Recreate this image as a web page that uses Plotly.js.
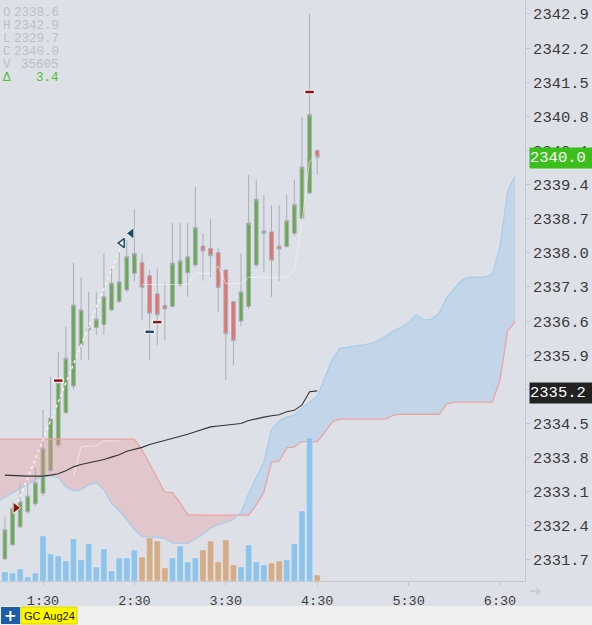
<!DOCTYPE html>
<html><head><meta charset="utf-8">
<script src="https://cdn.plot.ly/plotly-3.0.1.min.js"></script>
<style>html,body{margin:0;padding:0;background:#dde1e7;overflow:hidden}#chart{width:592px;height:625px}</style>
</head><body><div id="chart"></div>
<script>
// ---- candle data (5-minute bars) ----
const candleTimes = ["1:05","1:10","1:15","1:20","1:25","1:30","1:35","1:40","1:45","1:50","1:55","2:00","2:05","2:10","2:15","2:20","2:25","2:30","2:35","2:40","2:45","2:50","2:55","3:00","3:05","3:10","3:15","3:20","3:25","3:30","3:35","3:40","3:45","3:50","3:55","4:00","4:05","4:10","4:15","4:20","4:25","4:30"];
const openP  = [2331.72,2332.01,2332.38,2332.69,2332.85,2333.07,2333.53,2334.06,2334.72,2335.27,2336.10,2336.42,2336.47,2336.53,2336.83,2337.00,2337.24,2337.58,2337.80,2337.53,2337.16,2336.92,2336.90,2337.34,2337.59,2337.75,2338.14,2338.09,2338.01,2337.65,2337.00,2336.60,2336.90,2337.75,2338.40,2338.43,2338.14,2338.13,2338.40,2338.71,2339.23,2340.10];
const highP  = [2332.59,2332.90,2333.27,2333.27,2333.60,2334.78,2335.46,2335.97,2336.49,2337.80,2337.50,2337.20,2337.20,2337.99,2337.68,2338.02,2338.26,2338.89,2337.98,2337.65,2337.68,2337.38,2338.61,2338.61,2338.61,2339.35,2338.40,2338.69,2338.10,2337.65,2337.00,2337.99,2339.60,2339.50,2339.19,2338.98,2338.98,2339.19,2339.50,2340.79,2342.90,2340.12];
const lowP   = [2331.70,2332.00,2332.35,2332.65,2332.80,2333.00,2333.50,2334.00,2334.70,2335.20,2335.80,2335.80,2336.32,2336.32,2336.80,2336.98,2337.20,2337.41,2336.61,2335.80,2336.11,2336.21,2336.88,2337.30,2337.10,2337.70,2337.43,2337.50,2336.79,2335.39,2335.70,2336.49,2336.85,2337.70,2337.61,2337.10,2337.41,2338.10,2338.35,2338.65,2339.20,2339.60];
const closeP = [2332.32,2332.76,2332.90,2333.01,2333.29,2333.99,2334.61,2335.34,2335.84,2336.93,2336.83,2336.46,2336.64,2337.10,2337.38,2337.41,2337.92,2337.99,2337.29,2336.76,2336.73,2336.85,2337.79,2337.84,2337.92,2338.52,2338.04,2337.94,2337.29,2336.34,2336.20,2337.20,2338.61,2339.10,2338.45,2337.85,2338.08,2338.66,2338.99,2339.76,2340.84,2339.96];
const volumes = [90,80,120,40,80,450,270,250,200,420,210,370,140,320,100,230,230,310,240,430,400,130,230,350,190,230,310,400,190,410,160,140,360,190,160,180,200,210,370,700,1430,60];
const smaValues = [2333.44,2333.43,2333.42,2333.42,2333.42,2333.42,2333.44,2333.47,2333.53,2333.61,2333.66,2333.69,2333.72,2333.76,2333.81,2333.86,2333.93,2333.97,2334.01,2334.07,2334.11,2334.15,2334.19,2334.24,2334.28,2334.33,2334.38,2334.43,2334.45,2334.47,2334.49,2334.50,2334.56,2334.60,2334.63,2334.66,2334.68,2334.74,2334.77,2334.88,2335.15,2335.17];

// ---- ichimoku cloud ----
const cloudTimes = ["1:00","1:05","1:10","1:15","1:20","1:25","1:30","1:35","1:40","1:45","1:50","1:55","2:00","2:05","2:10","2:15","2:20","2:25","2:30","2:35","2:40","2:45","2:50","2:55","3:00","3:05","3:10","3:15","3:20","3:25","3:30","3:35","3:40","3:45","3:50","3:55","4:00","4:05","4:10","4:15","4:20","4:25","4:30","4:35","4:40","4:45","4:50","4:55","5:00","5:05","5:10","5:15","5:20","5:25","5:30","5:35","5:40","5:45","5:50","5:55","6:00","6:05","6:10","6:15","6:20","6:25","6:30","6:35","6:40"];
const spanA = [2332.90,2332.99,2333.07,2333.16,2333.25,2333.34,2333.42,2333.42,2333.39,2333.20,2333.12,2333.14,2333.24,2333.29,2333.14,2332.86,2332.71,2332.53,2332.32,2332.18,2332.17,2332.17,2332.14,2332.05,2332.04,2332.04,2332.13,2332.23,2332.36,2332.42,2332.47,2332.53,2332.68,2333.06,2333.39,2333.70,2334.37,2334.55,2334.63,2334.67,2334.82,2334.95,2335.06,2335.44,2335.82,2336.04,2336.06,2336.08,2336.11,2336.14,2336.20,2336.29,2336.40,2336.47,2336.57,2336.73,2336.62,2336.64,2336.76,2337.07,2337.27,2337.44,2337.50,2337.50,2337.50,2337.56,2338.12,2339.27,2339.57];
const spanB = [2334.18,2334.18,2334.18,2334.18,2334.18,2334.18,2334.18,2334.18,2334.18,2334.18,2334.18,2334.18,2334.18,2334.18,2334.18,2334.18,2334.18,2334.18,2334.18,2333.96,2333.67,2333.38,2333.09,2333.08,2332.87,2332.63,2332.62,2332.62,2332.62,2332.62,2332.62,2332.62,2332.62,2332.62,2332.83,2333.09,2333.71,2333.73,2334.00,2334.02,2334.13,2334.13,2334.13,2334.32,2334.54,2334.59,2334.59,2334.59,2334.59,2334.59,2334.59,2334.59,2334.67,2334.69,2334.69,2334.69,2334.69,2334.69,2334.69,2334.90,2334.94,2334.94,2334.94,2334.94,2334.94,2334.94,2335.39,2336.40,2336.59];
const tenkanTimes = ["2:35","2:40","2:45","2:50","2:55","3:00","3:05","3:10","3:15","3:20","3:25","3:30","3:35","3:40","3:45","3:50","3:55","4:00","4:05","4:10","4:15","4:20","4:25","4:30"];
const tenkanValues = [2337.35,2337.35,2337.35,2337.35,2337.35,2337.35,2337.35,2337.58,2337.58,2337.58,2337.73,2337.37,2337.37,2337.37,2337.50,2337.50,2337.50,2337.50,2337.50,2337.50,2337.65,2338.64,2339.88,2340.00];
const kijunTimes = ["1:50","1:55","2:05","2:10","2:20"];
const kijunValues = [2333.42,2334.02,2334.04,2334.14,2334.14];

// ---- drawings / signals ----
const trendTimes = ["1:12","2:22"];
const trendPrices = [2332.77,2338.20];
const trendEndTime = "2:28", trendEndPrice = 2338.40;
const signalTimes = ["1:40","2:40","2:45","4:25"];
const signalPrices = [2335.38,2336.38,2336.58,2341.30];
const signalColors = ["#8b1515","#1d4a66","#8b1515","#8b1515"];

// ---- axes labels ----
const xTickLabels = ["1:30","2:30","3:30","4:30","5:30","6:30"];
const yTickLabels = ["2331.7","2332.4","2333.1","2333.8","2334.5","2335.2","2335.9","2336.6","2337.3","2338.0","2338.7","2339.4","2340.1","2340.8","2341.5","2342.2","2342.9"];
const infoLabels = ["O","H","L","C","V","\u0394"];
const infoValues = ["2338.6","2342.9","2329.7","2340.0","35605","3.4"];
const lastPriceText = "2340.0";
const smaLastText = "2335.2";
const symbolName = "GC Aug24";

const toMin = t => { const p = t.split(':').map(Number); return p[0]*60 + p[1]; };
const cx = candleTimes.map(toMin);

// cloud with crossing points inserted
const ct=[], ca=[], cb=[];
const cm = cloudTimes.map(toMin);
for (let i=0;i<cm.length;i++){
  ct.push(cm[i]); ca.push(spanA[i]); cb.push(spanB[i]);
  if (i<cm.length-1){
    const d0=spanA[i]-spanB[i], d1=spanA[i+1]-spanB[i+1];
    if (d0*d1<0){
      const f=d0/(d0-d1);
      const yv=spanA[i]+f*(spanA[i+1]-spanA[i]);
      ct.push(cm[i]+f*(cm[i+1]-cm[i])); ca.push(yv); cb.push(yv);
    }
  }
}
const lo = ca.map((v,i)=>Math.min(v,cb[i]));

const MONO = "Liberation Mono, DejaVu Sans Mono, monospace";
const traces = [
  {x:ct,y:lo,mode:'lines',line:{width:0},hoverinfo:'skip',showlegend:false},
  {x:ct,y:cb,mode:'lines',line:{width:0},fill:'tonexty',fillcolor:'rgba(232,150,155,0.36)',hoverinfo:'skip',showlegend:false},
  {x:ct,y:lo,mode:'lines',line:{width:0},hoverinfo:'skip',showlegend:false},
  {x:ct,y:ca,mode:'lines',line:{width:0},fill:'tonexty',fillcolor:'rgba(160,200,235,0.42)',hoverinfo:'skip',showlegend:false},
  {x:cm,y:spanB,mode:'lines',line:{color:'#eba3a3',width:1.3},showlegend:false},
  {x:cm,y:spanA,mode:'lines',line:{color:'#a8cdeb',width:1.3},showlegend:false},
  {x:kijunTimes.map(toMin),y:kijunValues,mode:'lines',line:{color:'rgba(245,245,245,0.7)',width:1},showlegend:false},
  {x:cx,y:smaValues,mode:'lines',line:{color:'#333333',width:1.1},showlegend:false},
  {type:'candlestick',x:cx,open:openP,high:highP,low:lowP,close:closeP,
   increasing:{line:{color:'#a9aeb6',width:1},fillcolor:'#6aaa4e'},
   decreasing:{line:{color:'#a9aeb6',width:1},fillcolor:'#e8706e'},
   whiskerwidth:0,showlegend:false},
  {x:tenkanTimes.map(toMin),y:tenkanValues,mode:'lines',line:{color:'rgba(245,245,245,0.6)',width:1},showlegend:false},
  {x:trendTimes.map(toMin),y:trendPrices,mode:'lines',line:{color:'#f4f4f4',width:1.5,dash:'dot'},showlegend:false},
  {x:[toMin(trendTimes[0])],y:[trendPrices[0]],mode:'markers',marker:{symbol:'triangle-right',size:10,color:'#8b1515',line:{color:'#f0f0f0',width:1}},showlegend:false},
  {x:[toMin(trendTimes[1])],y:[trendPrices[1]],mode:'markers',marker:{symbol:'triangle-left',size:8,color:'#f0f0f0',line:{color:'#1d4a66',width:1.5}},showlegend:false},
  {x:[toMin(trendEndTime)],y:[trendEndPrice],mode:'markers',marker:{symbol:'triangle-left',size:10,color:'#1d4a66',line:{color:'#f0f0f0',width:1}},showlegend:false},
  {x:signalTimes.map(toMin),y:signalPrices,mode:'markers',marker:{symbol:'line-ew',size:8,line:{color:'#f4f4f4',width:4.5}},showlegend:false},
  {x:signalTimes.map(toMin),y:signalPrices,mode:'markers',marker:{symbol:'line-ew',size:6,line:{color:signalColors,width:2.5}},showlegend:false},
  {type:'bar',x:cx,y:volumes,yaxis:'y2',width:4,
   marker:{color:closeP.map((c,i)=>c>=openP[i]?'#8ec4ec':'#d4ad88'),line:{color:'rgba(255,255,255,0.35)',width:0.6}},showlegend:false,hoverinfo:'skip'}
];

const H = 581; // plot area height in px
const py = p => 1 - p/H;
const ann = [];
const infoY = [13,26,39,52,65,78];
infoLabels.forEach((l,i)=>{
  const col = i===5 ? '#4fc234' : '#b9c0ca';
  ann.push({xref:'paper',yref:'paper',x:0,xshift:2,y:py(infoY[i]),xanchor:'left',yanchor:'middle',text:l,showarrow:false,borderpad:0,font:{family:MONO,size:12.5,color:col}});
  ann.push({xref:'paper',yref:'paper',x:0,xshift:60,y:py(infoY[i]),xanchor:'right',yanchor:'middle',text:infoValues[i],showarrow:false,borderpad:0,font:{family:MONO,size:12.5,color:col}});
});
ann.push({xref:'paper',yref:'y',x:1,xshift:4,y:closeP[closeP.length-1],yshift:-0.5,xanchor:'left',yanchor:'middle',text:lastPriceText,showarrow:false,bgcolor:'#3cbf1c',borderpad:0,height:20,valign:'middle',font:{family:MONO,size:15.5,color:'#ffffff'},width:62,align:'left'});
ann.push({xref:'paper',yref:'y',x:1,xshift:4,y:smaValues[smaValues.length-1],yshift:-2.5,xanchor:'left',yanchor:'middle',text:smaLastText,showarrow:false,bgcolor:'#222222',borderpad:0,height:20,valign:'middle',font:{family:MONO,size:15.5,color:'#ffffff'},width:62,align:'left'});
ann.push({xref:'paper',yref:'paper',x:1,xshift:2,y:py(591),xanchor:'left',yanchor:'middle',text:'\u2794',showarrow:false,font:{family:'DejaVu Sans',size:15,color:'#c6cbd3'}});
// bottom strip
const W = 525;
ann.push({xref:'paper',yref:'paper',x:10.5/W,y:py(615.5),xanchor:'center',yanchor:'middle',text:'<b>+</b>',showarrow:false,font:{family:'DejaVu Sans',size:15,color:'#ffffff'}});
ann.push({xref:'paper',yref:'paper',x:49/W,y:py(615.5),xanchor:'center',yanchor:'middle',text:symbolName,showarrow:false,font:{family:'Liberation Sans, Arial',size:11,color:'#111111'}});

const shapes = [
  {type:'rect',xref:'paper',yref:'paper',x0:0,x1:592/W,y0:py(606),y1:py(626),fillcolor:'#f0f0f0',line:{width:0},layer:'below'},
  {type:'rect',xref:'paper',yref:'paper',x0:1/W,x1:20/W,y0:py(607),y1:py(624),fillcolor:'#1c5ea6',line:{width:0}},
  {type:'rect',xref:'paper',yref:'paper',x0:21/W,x1:77/W,y0:py(607),y1:py(624),fillcolor:'#fff700',line:{color:'#d8d000',width:1}}
];

const layout = {
  width:592,height:625,
  margin:{l:0,r:67,t:0,b:44,pad:0},
  paper_bgcolor:'#dde1e7',plot_bgcolor:'#dde1e7',
  showlegend:false,
  bargap:0,
  xaxis:{range:[61.77,406.42],tickvals:xTickLabels.map(toMin),ticktext:xTickLabels,ticks:'outside',ticklen:4,tickcolor:'#c3c8cf',
         showline:true,linecolor:'#c3c8cf',linewidth:1,showgrid:false,zeroline:false,rangeslider:{visible:false},
         tickfont:{family:MONO,size:13.5,color:'#3d3d3d'},ticklabelstandoff:3,fixedrange:true},
  yaxis:{side:'right',range:[2331.269,2343.187],tickvals:yTickLabels.map(Number),ticktext:yTickLabels,ticks:'outside',ticklen:4,tickcolor:'#c3c8cf',
         showline:true,linecolor:'#c3c8cf',linewidth:1,showgrid:false,zeroline:false,
         tickfont:{family:MONO,size:15.5,color:'#3a3a3a'},fixedrange:true},
  yaxis2:{overlaying:'y',range:[0,5810],visible:false,fixedrange:true},
  annotations:ann,shapes:shapes
};
Plotly.newPlot('chart',traces,layout,{displayModeBar:false,staticPlot:true});
</script></body></html>
